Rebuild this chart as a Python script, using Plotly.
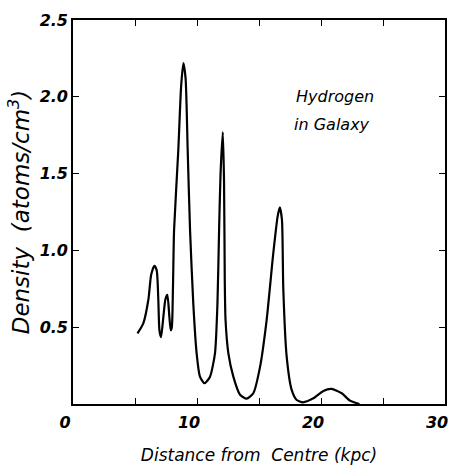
import plotly.graph_objects as go

# Hydrogen density vs distance from galactic centre
distance_kpc = [5.2, 5.67, 6.08, 6.3, 6.56, 6.75, 6.88, 6.97, 7.10, 7.29, 7.45, 7.61, 7.77, 7.88,
                7.97, 8.06, 8.15, 8.49, 8.72, 8.9, 9.08, 9.25, 9.44, 9.70, 9.97, 10.24, 10.6, 11.05,
                11.45, 11.65, 11.78, 11.9, 12.08, 12.18, 12.24, 12.3, 12.53, 12.93, 13.47,
                14.0, 14.54, 15.08, 15.62, 16.15, 16.5, 16.68, 16.85, 16.96, 17.23, 17.64,
                18.04, 18.55, 19.38, 20.19, 20.85, 21.67, 22.34, 23.1]
density = [0.46, 0.525, 0.68, 0.84, 0.90, 0.87, 0.68, 0.48, 0.435, 0.57, 0.68, 0.71, 0.57, 0.48,
           0.50, 0.75, 1.13, 1.65, 2.07, 2.22, 2.12, 1.65, 1.13, 0.655, 0.33, 0.178, 0.135, 0.178,
           0.33, 0.655, 1.13, 1.5, 1.77, 1.45, 0.8, 0.55, 0.33, 0.178, 0.06,
           0.035, 0.07, 0.24, 0.55, 0.98, 1.22, 1.28, 1.2, 0.75, 0.31, 0.09,
           0.026, 0.011, 0.037, 0.085, 0.098, 0.07, 0.022, 0.0]

x_tick_vals = [0, 10, 20, 30]
x_tick_text = ["0", "10", "20", "30"]
y_tick_vals = [0.5, 1.0, 1.5, 2.0, 2.5]
y_tick_text = ["0.5", "1.0", "1.5", "2.0", "2.5"]
label_lines = ["Hydrogen", "in Galaxy"]

FONT = "DejaVu Sans"

fig = go.Figure()
fig.add_trace(go.Scatter(
    x=distance_kpc, y=density, mode="lines",
    line=dict(color="black", width=2.2, shape="spline", smoothing=0.6),
    hoverinfo="skip", showlegend=False,
))

fig.add_annotation(x=17.8, y=2.0, xref="x", yref="y", text=label_lines[0], showarrow=False,
                   xanchor="left", yanchor="middle",
                   font=dict(family=FONT, size=16, color="black", style="italic"))
fig.add_annotation(x=17.7, y=1.82, xref="x", yref="y", text=label_lines[1], showarrow=False,
                   xanchor="left", yanchor="middle",
                   font=dict(family=FONT, size=16, color="black", style="italic"))

axis_common = dict(
    showline=True, linecolor="black", linewidth=1.6, mirror="allticks",
    ticks="inside", ticklen=6, tickwidth=1.4, tickcolor="black",
    showgrid=False, zeroline=False,
    tickfont=dict(family=FONT, size=16, color="black", style="italic", weight="bold"),
)

fig.update_xaxes(
    range=[0, 30], tickmode="array", tickvals=x_tick_vals, ticktext=x_tick_text,
    minor=dict(dtick=5, ticks="inside", ticklen=6, tickwidth=1.4, tickcolor="black"),
    ticklabelstandoff=3, ticklabelshift=-8,
    title=dict(text="Distance from  Centre (kpc)", standoff=18,
               font=dict(family=FONT, size=17, color="black", style="italic")),
    **axis_common,
)
fig.update_yaxes(
    range=[0, 2.5], tickmode="array", tickvals=y_tick_vals, ticktext=y_tick_text,
    ticklabelstandoff=0,
    title=dict(text="Density  (atoms/cm<sup>3</sup>)", standoff=4,
               font=dict(family=FONT, size=23, color="black", style="italic")),
    **axis_common,
)

fig.update_layout(
    width=452, height=469,
    margin=dict(l=73, r=7, t=20, b=65, autoexpand=False),
    paper_bgcolor="white", plot_bgcolor="white",
    font=dict(family=FONT, color="black"),
)

fig.write_html("out.html", config={"displayModeBar": False},
               post_script="document.body.style.margin='0';")
